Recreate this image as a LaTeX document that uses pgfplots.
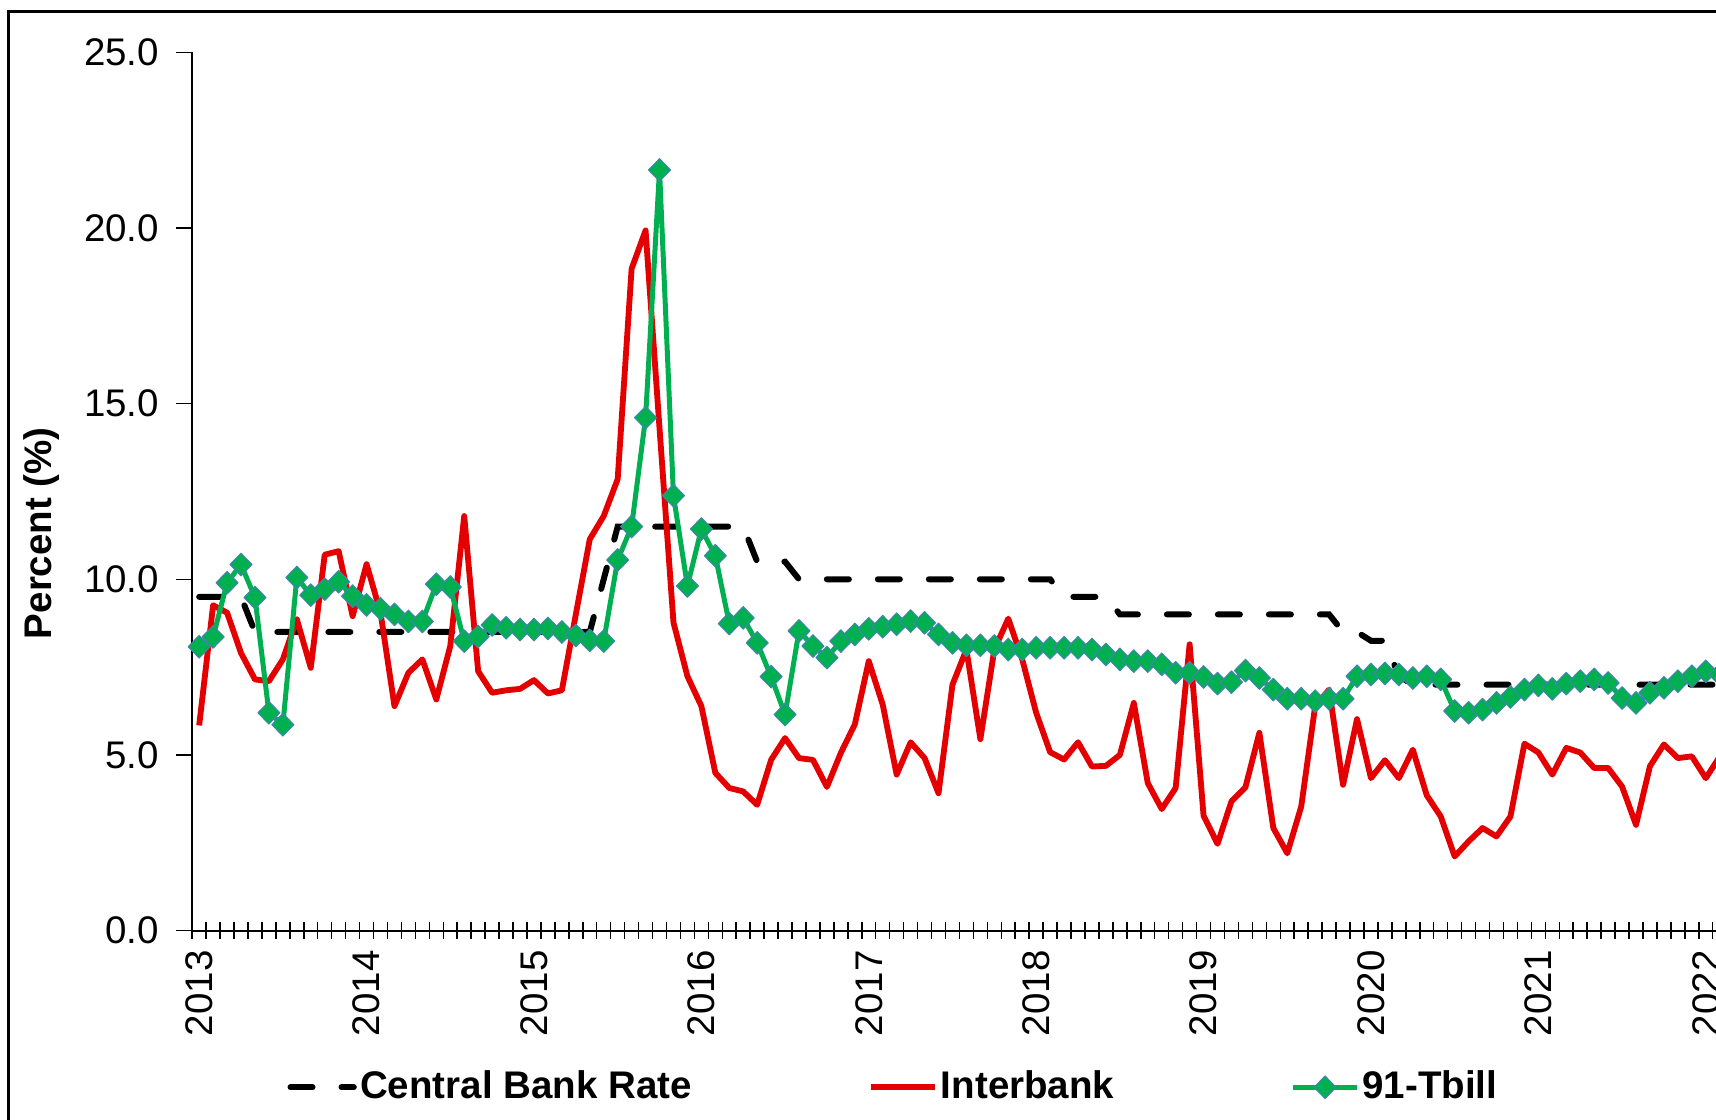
\documentclass[border=0pt]{standalone}
\usepackage{fontspec}
\setmainfont{Liberation Sans}
\usepackage{pgfplots}
\usepackage{pgfplotstable}
\pgfplotsset{compat=1.18}
\definecolor{ibred}{RGB}{228,0,0}
\definecolor{tbgreen}{RGB}{0,176,80}
\definecolor{mkedge}{RGB}{70,130,180}

\pgfplotstableread{
x y
0 9.5
1 9.5
2 9.5
3 9.5
4 8.5
28 8.5
29 10.0
30 11.5
39 11.5
40 10.5
42 10.5
43 10.0
61 10.0
62 9.5
65 9.5
66 9.0
81 9.0
82 8.5
83 8.5
84 8.25
85 8.25
86 7.25
87 7.0
110 7.0
}\cbr

\pgfplotstableread{
x y
0 5.84
1 9.26
2 9.05
3 7.9
4 7.15
5 7.1
6 7.72
7 8.86
8 7.48
9 10.7
10 10.8
11 8.95
12 10.43
13 9.05
14 6.39
15 7.34
16 7.72
17 6.58
18 8.1
19 11.8
20 7.38
21 6.77
22 6.84
23 6.88
24 7.13
25 6.75
26 6.84
27 9.0
28 11.14
29 11.8
30 12.85
31 18.84
32 19.93
33 14.3
34 8.77
35 7.24
36 6.39
37 4.49
38 4.06
39 3.96
40 3.58
41 4.86
42 5.48
43 4.91
44 4.86
45 4.09
46 5.06
47 5.87
48 7.67
49 6.43
50 4.44
51 5.36
52 4.91
53 3.91
54 7.0
55 8.0
56 5.45
57 8.0
58 8.88
59 7.72
60 6.2
61 5.08
62 4.87
63 5.36
64 4.67
65 4.69
66 5.0
67 6.48
68 4.2
69 3.46
70 4.06
71 8.15
72 3.27
73 2.47
74 3.68
75 4.08
76 5.63
77 2.92
78 2.2
79 3.53
80 6.39
81 6.86
82 4.15
83 6.02
84 4.34
85 4.85
86 4.34
87 5.15
88 3.85
89 3.25
90 2.11
91 2.54
92 2.92
93 2.68
94 3.25
95 5.32
96 5.07
97 4.44
98 5.2
99 5.07
100 4.63
101 4.63
102 4.1
103 3.01
104 4.68
105 5.3
106 4.91
107 4.96
108 4.34
109 4.95
}\interbank

\pgfplotstableread{
x y
0 8.08
1 8.36
2 9.9
3 10.42
4 9.48
5 6.2
6 5.86
7 10.05
8 9.55
9 9.72
10 9.93
11 9.52
12 9.27
13 9.16
14 9.0
15 8.8
16 8.8
17 9.86
18 9.78
19 8.24
20 8.37
21 8.7
22 8.62
23 8.57
24 8.57
25 8.6
26 8.5
27 8.4
28 8.26
29 8.24
30 10.55
31 11.5
32 14.6
33 21.65
34 12.38
35 9.81
36 11.43
37 10.67
38 8.74
39 8.9
40 8.19
41 7.23
42 6.15
43 8.53
44 8.1
45 7.77
46 8.24
47 8.43
48 8.59
49 8.65
50 8.72
51 8.81
52 8.76
53 8.43
54 8.19
55 8.12
56 8.12
57 8.1
58 8.0
59 8.0
60 8.05
61 8.05
62 8.05
63 8.05
64 8.0
65 7.86
66 7.72
67 7.67
68 7.67
69 7.58
70 7.34
71 7.34
72 7.22
73 7.03
74 7.07
75 7.4
76 7.19
77 6.86
78 6.6
79 6.6
80 6.53
81 6.6
82 6.6
83 7.24
84 7.29
85 7.32
86 7.29
87 7.19
88 7.24
89 7.15
90 6.25
91 6.2
92 6.29
93 6.48
94 6.65
95 6.86
96 6.98
97 6.88
98 7.03
99 7.1
100 7.15
101 7.05
102 6.62
103 6.48
104 6.77
105 6.91
106 7.1
107 7.24
108 7.38
109 7.29
}\tbill

\begin{document}
\begin{tikzpicture}
\begin{axis}[
  at={(0,0)}, anchor=south west,
  scale only axis, width=462.44pt, height=263.5pt,
  xmin=-0.5, xmax=110, ymin=0, ymax=25,
  axis lines*=left,
  axis line style={line width=0.6pt, black},
  /pgf/number format/assume math mode=true,
  tick label style={font=\fontsize{11.55}{13}\selectfont, black},
  ytick={0,5,10,15,20,25},
  yticklabel style={/pgf/number format/fixed, /pgf/number format/fixed zerofill, /pgf/number format/precision=1, xshift=-1.6pt},
  ytick align=outside,
  xtick align=center,
  major tick length=4.8pt,
  minor tick length=5pt,
  tick style={line width=0.45pt, black},
  xtick={0,12,24,36,48,60,72,84,96,108},
  xticklabels={2013,2014,2015,2016,2017,2018,2019,2020,2021,2022},
  every major x tick/.append style={draw=none},
  minor xtick={-0.5,0.5,...,109.5},
  xticklabel style={rotate=90, anchor=east},
  ylabel={Percent (\%)},
  every axis y label/.style={at={(axis description cs:-0.0975,0.4525)}, rotate=90, anchor=center, font=\bfseries\fontsize{11.55}{13}\selectfont},
  legend columns=3,
  legend cell align=left,
  legend style={at={(axis description cs:0.0614,-0.1784)}, anchor=west, draw=none, fill=none, inner sep=0pt,
    font=\bfseries\fontsize{11.55}{13}\selectfont, nodes={inner sep=1pt},
    /tikz/every even column/.append style={column sep=52pt}},
  legend image code/.code={\draw[mark repeat=2,mark phase=2,#1] plot coordinates {(0pt,0pt) (9.5pt,0pt) (19pt,0pt)};},
]
\addplot[black, line width=1.8pt, line cap=round, dash pattern=on 6.6pt off 8.7pt, no markers] table[x=x,y=y] {\cbr};
\addlegendentry{Central Bank Rate}
\addplot[ibred, line width=1.75pt, line join=round, no markers] table[x=x,y=y] {\interbank};
\addlegendentry{Interbank}
\addplot[tbgreen, line width=1.5pt, line join=round, mark=diamond*, mark size=3.4pt,
  mark options={xscale=1.3, fill=tbgreen, draw=mkedge, line width=0.3pt, solid}] table[x=x,y=y] {\tbill};
\addlegendentry{91-Tbill}
\end{axis}
\draw[line width=0.9pt, black] (-54.96pt,-70pt) -- (-54.96pt,275.88pt) -- (480pt,275.88pt);
\pgfresetboundingbox
\path[use as bounding box] (-57.66pt,-56.52pt) rectangle (457.14pt,279.18pt);
\end{tikzpicture}
\end{document}
